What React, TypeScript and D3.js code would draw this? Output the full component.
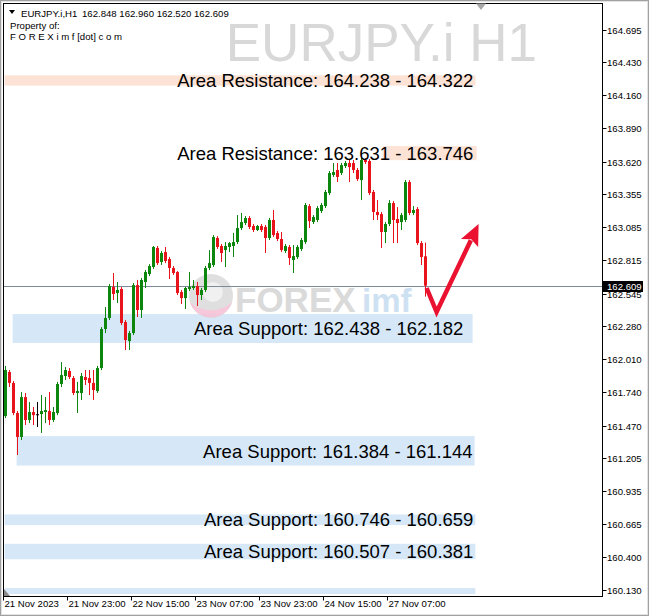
import React from 'react';
import * as d3 from 'd3';

const W = 649;
const H = 616;

// [open, high, low, close] — EURJPY.i H1, from 21 Nov 2023 07:00
const candleOHLC: [number, number, number, number][] = [
  [161.547,161.955,161.531,161.922],[161.906,161.922,161.784,161.817],[161.817,161.833,161.555,161.572],
  [161.572,161.588,161.230,161.377],[161.377,161.743,161.352,161.702],[161.702,161.735,161.474,161.515],
  [161.515,161.662,161.491,161.580],[161.580,161.621,161.474,161.555],[161.562,161.662,161.458,161.562],
  [161.564,161.718,161.409,161.588],[161.580,161.702,161.491,161.596],[161.588,161.743,161.474,161.515],
  [161.515,161.621,161.499,161.580],[161.572,161.825,161.555,161.808],[161.808,161.987,161.784,161.881],
  [161.873,161.947,161.841,161.922],[161.914,161.938,161.849,161.865],[161.857,161.873,161.718,161.735],
  [161.735,161.825,161.572,161.751],[161.735,161.898,161.678,161.873],[161.865,161.922,161.800,161.841],
  [161.857,161.922,161.718,161.817],[161.817,161.922,161.678,161.759],[161.751,161.955,161.735,161.938],
  [161.938,162.272,161.922,162.256],[162.256,162.435,162.223,162.346],[162.346,162.622,162.329,162.606],
  [162.598,162.712,162.492,162.541],[162.549,162.639,162.468,162.574],[162.582,162.598,162.288,162.305],
  [162.313,162.329,162.085,162.166],[162.158,162.240,162.085,162.223],[162.223,162.631,162.207,162.614],
  [162.614,162.655,162.354,162.411],[162.411,162.671,162.346,162.655],[162.639,162.736,162.590,162.720],
  [162.704,162.785,162.687,162.769],[162.761,162.932,162.745,162.924],[162.916,162.932,162.777,162.793],
  [162.802,162.891,162.777,162.875],[162.883,162.924,162.793,162.810],[162.826,162.842,162.663,162.753],
  [162.753,162.769,162.696,162.712],[162.720,162.728,162.533,162.549],[162.557,162.574,162.460,162.508],
  [162.508,162.598,162.419,162.590],[162.582,162.720,162.565,162.598],[162.590,162.655,162.574,162.606],
  [162.606,162.639,162.443,162.533],[162.533,162.590,162.492,162.574],[162.574,162.769,162.557,162.753],
  [162.753,162.899,162.736,162.793],[162.777,163.021,162.761,163.005],[162.997,163.013,162.908,162.924],
  [162.932,162.948,162.802,162.875],[162.899,162.964,162.761,162.932],[162.924,162.964,162.883,162.956],
  [162.932,163.038,162.842,162.964],[162.964,163.184,162.948,163.078],[163.078,163.201,163.062,163.127],
  [163.119,163.176,163.103,163.160],[163.160,163.176,163.070,163.087],[163.095,163.111,163.046,163.062],
  [163.062,163.103,163.054,163.095],[163.095,163.111,163.046,163.062],[163.087,163.103,162.875,162.997],
  [162.997,163.160,162.981,163.144],[163.144,163.225,163.005,163.021],[163.038,163.054,162.972,162.989],
  [162.989,163.046,162.883,162.899],[162.891,162.948,162.875,162.932],[162.924,162.940,162.777,162.834],
  [162.818,162.940,162.712,162.850],[162.842,162.940,162.826,162.924],[162.908,162.997,162.891,162.981],
  [162.964,163.282,162.948,163.266],[163.257,163.274,163.078,163.135],[163.127,163.184,163.111,163.168],
  [163.144,163.257,163.127,163.241],[163.217,163.282,163.201,163.266],[163.257,163.388,163.241,163.372],
  [163.363,163.543,163.347,163.526],[163.510,163.608,163.494,163.534],[163.551,163.608,163.453,163.494],
  [163.526,163.608,163.510,163.591],[163.583,163.624,163.567,163.608],[163.608,163.632,163.453,163.575],
  [163.608,163.632,163.526,163.551],[163.551,163.567,163.461,163.477],[163.469,163.648,163.306,163.632],
  [163.632,163.648,163.600,163.616],[163.624,163.640,163.347,163.363],[163.372,163.388,163.144,163.209],
  [163.209,163.306,163.144,163.184],[163.192,163.209,162.916,163.046],[163.046,163.127,162.956,163.111],
  [163.111,163.306,163.095,163.282],[163.282,163.298,162.956,163.144],[163.152,163.249,162.956,163.119],
  [163.127,163.201,163.062,163.184],[163.144,163.469,163.127,163.453],[163.453,163.469,163.184,163.201],
  [163.201,163.257,163.184,163.225],[163.233,163.249,162.940,162.956],[162.956,162.972,162.777,162.842],
  [162.848,162.960,162.520,162.609],
];

const priceTicks = [164.695,164.430,164.160,163.890,163.620,163.355,163.085,162.815,162.545,162.280,
  162.010,161.740,161.470,161.205,160.935,160.665,160.400,160.130];

const timeLabels = ['21 Nov 2023','21 Nov 23:00','22 Nov 15:00','23 Nov 07:00','23 Nov 23:00','24 Nov 15:00','27 Nov 07:00'];
const timeLabelIdx = [0, 16, 32, 48, 64, 80, 96];

const bandKind = ['res','res','sup','sup','sup','sup','sup'];
const bandTop = [164.322, 163.746, 162.378, 161.384, 160.746, 160.507, 160.147];
const bandBottom = [164.238, 163.631, 162.142, 161.144, 160.659, 160.381, 160.098];
const bandStart = [-0.1, 94.4, 1.9, 2.9, -0.1, -0.1, -0.1];
const bandEnd = [117.6, 117.9, 116.9, 117.4, 117.6, 117.6, 117.6];
const bandLabels = [
  'Area Resistance: 164.238 - 164.322',
  'Area Resistance: 163.631 - 163.746',
  'Area Support: 162.438 - 162.182',
  'Area Support: 161.384 - 161.144',
  'Area Support: 160.746 - 160.659',
  'Area Support: 160.507 - 160.381',
  '',
];
const labelEndIdx = [117.1, 117.1, 114.6, 116.9, 117.1, 117.1, 0];

const lastPrice = 162.609;
const headerSymbol = 'EURJPY.i,H1';
const headerOHLC = '162.848 162.960 162.520 162.609';

// arrow path in (bar index, price)
const arrowPts: [number, number][] = [[105.4, 162.590], [107.9, 162.394], [116.7, 163.038]];
const arrowTip: [number, number] = [118.4, 163.111];

const GREEN = '#0d860d';
const RED = '#e8141c';
const RES = '#fce3d5';
const SUP = '#d6e8f8';
const FONT_SMALL = '"Liberation Sans", Arial, sans-serif';

export default function App() {
  const plot = { left: 3.5, right: 602.5, top: 3.5, bottom: 596.5 };
  const x = d3.scaleLinear().domain([0, 105]).range([5, 425]);
  const y = d3.scaleLinear().domain([164.695, 160.130]).range([29.5, 590.1]);

  const line = d3.line<[number, number]>().x(d => x(d[0])).y(d => y(d[1]));
  const tipX = x(arrowTip[0]), tipY = y(arrowTip[1]);
  const mid = arrowPts[1];
  const dx = tipX - x(mid[0]), dy = tipY - y(mid[1]);
  const len = Math.hypot(dx, dy);
  const ux = dx / len, uy = dy / len;
  const bx = tipX - ux * 21, by = tipY - uy * 21;
  const px = -uy, py = ux;
  const head = [[tipX, tipY], [bx + px * 9.5, by + py * 9.5], [bx + ux * 4, by + uy * 4], [bx - px * 9.5, by - py * 9.5]];
  const lineEnd: [number, number] = [x.invert(bx + ux * 3), y.invert(by + uy * 3)];

  return (
    <svg width={W} height={H} style={{ position: 'absolute', left: 0, top: 0, background: '#fff' }}>
      <rect x={0} y={0} width={W} height={H} fill="#ffffff" />
      {/* window border */}
      <rect x={0.5} y={0.5} width={W - 1} height={H - 1} fill="none" stroke="#a0a0a0" />
      <rect x={1.5} y={1.5} width={W - 3} height={H - 3} fill="none" stroke="#e3e3e3" />

      <defs>
        <clipPath id="plotClip">
          <rect x={plot.left + 0.5} y={plot.top + 0.5} width={plot.right - plot.left - 1} height={plot.bottom - plot.top - 1} />
        </clipPath>
      </defs>

      <g clipPath="url(#plotClip)">
        {/* bands */}
        {bandTop.map((t, i) => (
          <rect key={'b' + i} x={x(bandStart[i])} y={y(t)} width={x(bandEnd[i]) - x(bandStart[i])}
            height={y(bandBottom[i]) - y(t)} fill={bandKind[i] === 'res' ? RES : SUP} />
        ))}

        {/* symbol watermark */}
        <text x={537} y={61} textAnchor="end" fontFamily='"Liberation Sans", Arial, sans-serif' fontSize={53} fill="#d8d8d8">EURJPY.i H1</text>

        {/* FOREXimf logo watermark */}
        <g opacity={0.9}>
          <circle cx={211} cy={296} r={22} fill="#dcdcdc" />
          <path d="M 190 302 A 22 22 0 0 0 232 302 A 26 20 0 0 1 190 302 Z" fill="#f6c3d6" />
          <circle cx={213} cy={292} r={10} fill="#ffffff" opacity={0.55} />
          <text x={235} y={312} fontFamily='"Liberation Sans", Arial, sans-serif' fontWeight="bold" fontSize={35} fill="#d6d6d6">FOREX</text>
          <text x={362} y={312} fontFamily='"Liberation Sans", Arial, sans-serif' fontWeight="bold" fontSize={33} fill="#c9def2">imf</text>
        </g>

        {/* bid line */}
        <line x1={plot.left} x2={plot.right} y1={Math.round(y(lastPrice)) + 0.5} y2={Math.round(y(lastPrice)) + 0.5} stroke="#7d8a97" strokeWidth={1} />

        {/* candles */}
        {candleOHLC.map(([o, h, l, c], i) => {
          const cx = Math.round(x(i));
          const col = c > o ? GREEN : c < o ? RED : '#000000';
          const top = Math.min(y(o), y(c));
          const bot = Math.max(y(o), y(c));
          return (
            <g key={'c' + i}>
              <line x1={cx + 0.5} x2={cx + 0.5} y1={y(h)} y2={y(l)} stroke={col} strokeWidth={1} />
              <rect x={cx - 1} y={top} width={3} height={Math.max(1, bot - top)} fill={col} />
            </g>
          );
        })}

        {/* band labels */}
        {bandLabels.map((s, i) => s ? (
          <text key={'l' + i} x={x(labelEndIdx[i])} y={(y(bandTop[i]) + y(bandBottom[i])) / 2} dy="0.36em"
            textAnchor="end" fontFamily='"Liberation Sans", Arial, sans-serif' fontSize={18.5} fill="#000">{s}</text>
        ) : null)}

        {/* arrow */}
        <path d={line([...arrowPts.slice(0, 2), lineEnd]) || ''} fill="none" stroke="#ea1230" strokeWidth={4.5} strokeLinejoin="miter" />
        <polygon points={head.map(p => p.join(',')).join(' ')} fill="#ea1230" />
      </g>

      {/* frame */}
      <rect x={plot.left} y={plot.top} width={plot.right - plot.left} height={plot.bottom - plot.top} fill="none" stroke="#000" strokeWidth={1} />

      {/* header */}
      <polygon points="9,10 15,10 12,14" fill="#000" />
      <text x={21} y={17} fontFamily={FONT_SMALL} fontSize={9.6} fill="#000">{headerSymbol}</text>
      <text x={82} y={17} fontFamily={FONT_SMALL} fontSize={9.6} fill="#000">{headerOHLC}</text>
      <text x={10} y={29} fontFamily={FONT_SMALL} fontSize={9.6} fill="#000">Property of:</text>
      <text x={10} y={40} fontFamily={FONT_SMALL} fontSize={9.6} fill="#000">F O R E X i m f [dot] c o m</text>

      {/* chart shift marker */}
      <polygon points="476,3.5 486,3.5 481,10" fill="#a8a8a8" />
      <polygon points="4,589 4,596 10,596" fill="#8a8a8a" />

      {/* price axis */}
      {priceTicks.map((p, i) => {
        const yy = Math.round(y(p)) + 0.5;
        return (
          <g key={'t' + i}>
            <line x1={plot.right} x2={plot.right + 4} y1={yy} y2={yy} stroke="#000" />
            <text x={607} y={yy} dy="0.35em" fontFamily={FONT_SMALL} fontSize={9.6} fill="#000">{p.toFixed(3)}</text>
          </g>
        );
      })}
      {/* current price box */}
      <rect x={603} y={Math.round(y(lastPrice)) - 5} width={40} height={11} fill="#000" />
      <text x={607} y={Math.round(y(lastPrice)) + 0.5} dy="0.35em" fontFamily={FONT_SMALL} fontSize={9.6} fill="#fff">{lastPrice.toFixed(3)}</text>

      {/* time axis */}
      {timeLabels.map((s, i) => {
        const xx = Math.round(x(timeLabelIdx[i])) - 1.5;
        return (
          <g key={'x' + i}>
            <line x1={xx} x2={xx} y1={plot.bottom} y2={plot.bottom + 4} stroke="#000" />
            <text x={xx + 1} y={607} fontFamily={FONT_SMALL} fontSize={9.6} fill="#000">{s}</text>
          </g>
        );
      })}
    </svg>
  );
}
